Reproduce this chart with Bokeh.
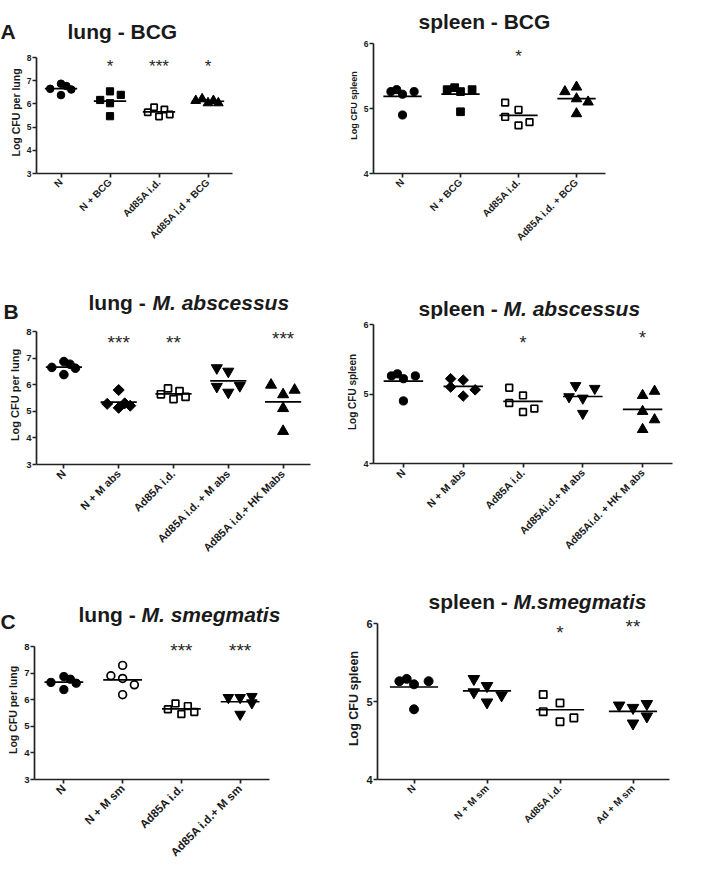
import numpy as np
from bokeh.plotting import figure
from bokeh.layouts import column, row
from bokeh.models import Range1d, FixedTicker
from bokeh.core.properties import value
from bokeh.embed import file_html
from bokeh.resources import INLINE

FONT = "Liberation Sans"
INK = "#1a1a1a"

# ---------------- data ----------------
# shared groups (same animals shown in several panels)
lung_N = [6.65, 6.87, 6.38, 6.77, 6.62]
lung_N_off = [-0.22, 0.0, 0.0, 0.11, 0.21]
lung_Ad = [5.64, 5.86, 5.46, 5.76, 5.54]
lung_Ad_off = [-0.23, -0.10, 0.0, 0.11, 0.22]
spl_N = [5.26, 5.29, 5.22, 5.26, 4.90]
spl_N_off = [-0.20, -0.10, 0.0, 0.20, 0.0]
spl_Ad = [5.09, 4.98, 4.87, 4.74, 4.79]
spl_Ad_off = [-0.23, 0.0, -0.23, 0.0, 0.19]

# A - BCG
cats_A_lung = ["N", "N + BCG", "Ad85A i.d.", "Ad85A i.d + BCG"]
lung_NBCG = [6.17, 6.54, 6.39, 6.03, 5.47]
lung_NBCG_off = [-0.20, 0.0, 0.22, 0.0, 0.0]
lung_AdBCG = [6.14, 6.21, 6.04, 6.14, 6.04]
lung_AdBCG_off = [-0.25, -0.12, 0.0, 0.11, 0.21]
stars_A_lung = [(1, "*", 7.6), (2, "***", 7.6), (3, "*", 7.62)]

cats_A_spl = ["N", "N + BCG", "Ad85A i.d.", "Ad85A i.d. + BCG"]
spl_NBCG = [5.29, 5.32, 5.26, 5.29, 4.95]
spl_NBCG_off = [-0.23, -0.10, 0.0, 0.20, 0.0]
spl_AdBCG = [5.26, 5.33, 5.15, 5.10, 4.92]
spl_AdBCG_off = [-0.20, 0.0, 0.0, 0.20, 0.0]
stars_A_spl = [(2, "*", 5.8)]

# B - M. abscessus
cats_B_lung = ["N", "N + M abs", "Ad85A i.d.", "Ad85A i.d. + M abs", "Ad85A i.d.+ HK Mabs"]
lung_NMabs = [5.28, 5.80, 5.13, 5.30, 5.21]
lung_NMabs_off = [-0.21, 0.0, 0.0, 0.11, 0.21]
lung_AdMabs = [6.63, 6.50, 5.93, 5.71, 5.96]
lung_AdMabs_off = [-0.21, 0.0, -0.21, 0.0, 0.21]
lung_HK = [5.99, 5.63, 5.80, 5.11, 4.25]
lung_HK_off = [-0.22, 0.0, 0.21, 0.0, 0.0]
stars_B_lung = [(1, "***", 7.6), (2, "**", 7.6), (4, "***", 7.74)]

cats_B_spl = ["N", "N + M abs", "Ad85A i.d.", "Ad85Ai.d.+ M abs", "Ad85Ai.d. + HK M abs"]
spl_NMabs = [5.22, 5.20, 5.10, 5.06, 4.97]
spl_NMabs_off = [-0.21, 0.0, -0.21, 0.20, 0.0]
spl_AdMabs = [5.12, 5.08, 4.96, 4.94, 4.72]
spl_AdMabs_off = [-0.12, 0.20, -0.23, 0.0, 0.0]
spl_HK = [4.98, 5.04, 4.75, 4.63, 4.49]
spl_HK_off = [0.0, 0.20, 0.0, 0.20, 0.0]
stars_B_spl = [(2, "*", 5.74), (4, "*", 5.8)]

# C - M. smegmatis
cats_C_lung = ["N", "N + M sm", "Ad85A i.d.", "Ad85A i.d.+ M sm"]
lung_NMsm = [6.90, 7.29, 6.80, 6.19, 6.56]
lung_NMsm_off = [-0.20, 0.0, 0.0, 0.0, 0.20]
lung_AdMsm = [6.08, 6.08, 6.12, 5.88, 5.45]
lung_AdMsm_off = [-0.20, 0.0, 0.20, 0.20, 0.0]
stars_C_lung = [(2, "***", 7.85), (3, "***", 7.85)]

cats_C_spl = ["N", "N + M sm", "Ad85A i.d.", "Ad + M sm"]
spl_NMsm = [5.29, 5.20, 5.12, 5.08, 4.99]
spl_NMsm_off = [-0.18, 0.0, -0.18, 0.20, 0.0]
spl_AdMsm = [4.95, 4.92, 4.97, 4.81, 4.72]
spl_AdMsm_off = [-0.19, 0.0, 0.19, 0.19, 0.0]
stars_C_spl = [(2, "*", 5.88), (3, "**", 5.96)]

lung_ticks = [3, 4, 5, 6, 7, 8]
spl_ticks = [4, 5, 6]

# ---------------- styles ----------------
MS = {
    "circle": dict(marker="circle", size=7.6, fill_color="black", line_color="black", line_width=1),
    "open_circle": dict(marker="circle", size=7.2, fill_color="white", line_color="black", line_width=1.7),
    "square": dict(marker="square", size=7.2, fill_color="black", line_color="black", line_width=1),
    "open_square": dict(marker="square", size=6.2, fill_color="white", line_color="black", line_width=1.7),
    "triangle": dict(marker="triangle", size=9.8, fill_color="black", line_color="black", line_width=1),
    "inv_triangle": dict(marker="inverted_triangle", size=9.8, fill_color="black", line_color="black", line_width=1),
    "diamond": dict(marker="square", size=6.9, angle=np.pi / 4, fill_color="black", line_color="black", line_width=1),
}


def head(w, h, items):
    p = figure(width=w, height=h, x_range=Range1d(0, w), y_range=Range1d(0, h),
               x_axis_type=None, y_axis_type=None, toolbar_location=None,
               output_backend="svg", min_border=0, frame_align=False)
    p.outline_line_color = None
    for (x, y, txt, style) in items:
        p.text(x=[x], y=[y], text=[txt], text_font=value(FONT), text_font_style=value(style),
               text_font_size=value("21px"), text_color=INK,
               text_align=value("left"), text_baseline=value("alphabetic"))
    return p


def panel(cfg):
    cats = cfg["cats"]
    n = len(cats)
    b = cfg["borders"]  # left, right, top, bottom
    ymin, ymax = cfg["ymin"], cfg["ymax"]
    axis_px = cfg["axis_px"]
    pad = cfg["pad"] * (ymax - ymin) / axis_px  # headroom above the axis top, in data units
    p = figure(width=cfg["w"], height=cfg["h"],
               x_range=Range1d(-0.5, n - 0.5), y_range=Range1d(ymin, ymax + pad),
               toolbar_location=None, output_backend="svg", frame_align=False,
               min_border_left=b[0], min_border_right=b[1],
               min_border_top=b[2], min_border_bottom=b[3])
    p.outline_line_color = None
    p.xgrid.visible = False
    p.ygrid.visible = False

    for ax in (p.xaxis, p.yaxis):
        ax.axis_line_color = "#222222"
        ax.axis_line_width = 1.7
        ax.major_tick_line_color = "#222222"
        ax.major_tick_line_width = 1.7
        ax.major_tick_in = 0
        ax.major_tick_out = 4
        ax.minor_tick_line_color = None
        ax.major_label_text_font = FONT
        ax.major_label_text_font_style = "bold"
        ax.major_label_text_color = INK

    p.xaxis.ticker = FixedTicker(ticks=list(range(n)))
    p.xaxis.major_label_overrides = {i: c for i, c in enumerate(cats)}
    p.xaxis.major_label_orientation = np.pi / 4
    p.xaxis.major_label_text_font_size = cfg["xfs"]
    p.xaxis.major_label_standoff = 3

    p.yaxis.ticker = FixedTicker(ticks=cfg["yticks"])
    p.yaxis.bounds = (ymin, ymax)
    p.yaxis.major_label_text_font_size = cfg["yfs"]
    p.yaxis.major_label_standoff = 1
    p.yaxis.axis_label = cfg["ylabel"]
    p.yaxis.axis_label_text_font = FONT
    p.yaxis.axis_label_text_font_style = "bold"
    p.yaxis.axis_label_text_font_size = cfg["lfs"]
    p.yaxis.axis_label_text_color = INK
    p.yaxis.axis_label_standoff = 2

    k = cfg["ms"]
    for i, ((vals, offs), mk) in enumerate(zip(cfg["groups"], cfg["markers"])):
        xs = [i + o for o in offs]
        style = dict(MS[mk])
        style["size"] = style["size"] * k
        p.scatter(x=xs, y=vals, **style)
        m = float(np.mean(vals))
        p.segment(x0=[i - 0.33], x1=[i + 0.33], y0=[m], y1=[m], line_color="black", line_width=1.7)

    sx = [s[0] for s in cfg["stars"]]
    st = [s[1] for s in cfg["stars"]]
    sy = [s[2] for s in cfg["stars"]]
    p.text(x=sx, y=sy, text=st, text_align="center", text_baseline="middle",
           text_font=value(FONT), text_font_size=cfg["sfs"], text_color="#262626")
    return p


LW, RW = 337, 360

cfgs = [
    dict(w=LW, h=226, borders=(36, 105, 5, 99), ymin=3, ymax=8, axis_px=116, pad=6, yticks=lung_ticks,
         cats=cats_A_lung, ylabel="Log CFU per lung",
         groups=[(lung_N, lung_N_off), (lung_NBCG, lung_NBCG_off), (lung_Ad, lung_Ad_off), (lung_AdBCG, lung_AdBCG_off)],
         markers=["circle", "square", "open_square", "triangle"], stars=stars_A_lung,
         xfs="10px", yfs="8.5px", lfs="10.5px", ms=1.0, sfs="17px"),
    dict(w=RW, h=236, borders=(36, 92, 1, 99), ymin=4, ymax=6, axis_px=130, pad=6, yticks=spl_ticks,
         cats=cats_A_spl, ylabel="Log CFU spleen",
         groups=[(spl_N, spl_N_off), (spl_NBCG, spl_NBCG_off), (spl_Ad, spl_Ad_off), (spl_AdBCG, spl_AdBCG_off)],
         markers=["circle", "square", "open_square", "triangle"], stars=stars_A_spl,
         xfs="10px", yfs="8.5px", lfs="9px", ms=1.07, sfs="17px"),
    dict(w=LW, h=238, borders=(36, 27, 1, 98), ymin=3, ymax=8, axis_px=133, pad=6, yticks=lung_ticks,
         cats=cats_B_lung, ylabel="Log CFU per lung",
         groups=[(lung_N, lung_N_off), (lung_NMabs, lung_NMabs_off), (lung_Ad, lung_Ad_off),
                 (lung_AdMabs, lung_AdMabs_off), (lung_HK, lung_HK_off)],
         markers=["circle", "diamond", "open_square", "inv_triangle", "triangle"], stars=stars_B_lung,
         xfs="11px", yfs="9.5px", lfs="11px", ms=1.13, sfs="19px"),
    dict(w=RW, h=243, borders=(36, 25, 1, 99), ymin=4, ymax=6, axis_px=139, pad=4, yticks=spl_ticks,
         cats=cats_B_spl, ylabel="Log CFU spleen",
         groups=[(spl_N, spl_N_off), (spl_NMabs, spl_NMabs_off), (spl_Ad, spl_Ad_off),
                 (spl_AdMabs, spl_AdMabs_off), (spl_HK, spl_HK_off)],
         markers=["circle", "diamond", "open_square", "inv_triangle", "triangle"], stars=stars_B_spl,
         xfs="10.5px", yfs="9px", lfs="10px", ms=1.08, sfs="18px"),
    dict(w=LW, h=234, borders=(34, 68, 4, 91), ymin=3, ymax=8, axis_px=133, pad=6, yticks=lung_ticks,
         cats=cats_C_lung, ylabel="Log CFU per lung",
         groups=[(lung_N, lung_N_off), (lung_NMsm, lung_NMsm_off), (lung_Ad, lung_Ad_off), (lung_AdMsm, lung_AdMsm_off)],
         markers=["circle", "open_circle", "open_square", "inv_triangle"], stars=stars_C_lung,
         xfs="11.5px", yfs="9.5px", lfs="10.5px", ms=1.08, sfs="19px"),
    dict(w=RW, h=256, borders=(40, 28, 3, 91), ymin=4, ymax=6, axis_px=156, pad=6, yticks=spl_ticks,
         cats=cats_C_spl, ylabel="Log CFU spleen",
         groups=[(spl_N, spl_N_off), (spl_NMsm, spl_NMsm_off), (spl_Ad, spl_Ad_off), (spl_AdMsm, spl_AdMsm_off)],
         markers=["circle", "inv_triangle", "open_square", "inv_triangle"], stars=stars_C_spl,
         xfs="10px", yfs="11px", lfs="12.5px", ms=1.18, sfs="19px"),
]

heads = [
    head(LW, 46, [(0, 15, "A", "bold"), (67, 15, "lung - BCG", "bold")]),
    head(RW, 36, [(81, 15, "spleen - BCG", "bold")]),
    head(LW, 52, [(3, 13, "B", "bold"), (88, 22, "lung - ", "bold"), (152, 22, "M. abscessus", "bold italic")]),
    head(RW, 47, [(81, 11, "spleen - ", "bold"), (166, 11, "M. abscessus", "bold italic")]),
    head(LW, 74, [(0, 15, "C", "bold"), (78, 22, "lung - ", "bold"), (141, 22, "M. smegmatis", "bold italic")]),
    head(RW, 52, [(91, 13, "spleen - ", "bold"), (176, 13, "M.smegmatis", "bold italic")]),
]

figs = [panel(c) for c in cfgs]
cols = [column(heads[i], figs[i]) for i in range(6)]
layout = column(row(cols[0], cols[1]), row(cols[2], cols[3]), row(cols[4], cols[5]))

open("out.html", "w").write(file_html(layout, INLINE))
